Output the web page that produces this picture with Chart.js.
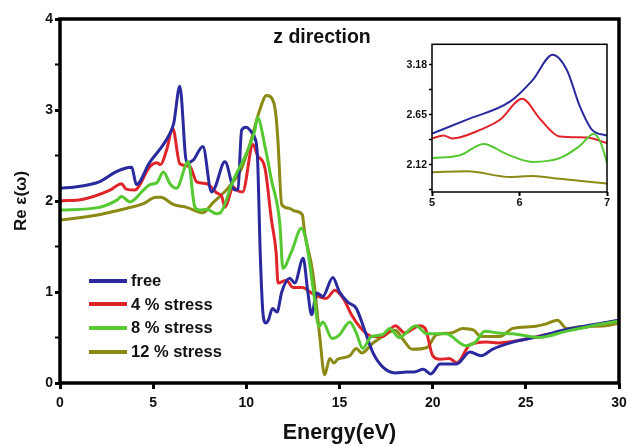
<!DOCTYPE html>
<html>
<head>
<meta charset="utf-8">
<script src="https://cdn.jsdelivr.net/npm/chart.js@4.4.1/dist/chart.umd.min.js"></script>
<style>
  html, body { margin: 0; padding: 0; background: #fff; }
  #wrap { position: relative; width: 630px; height: 446px; font-family: "Liberation Sans", Arial, sans-serif; }
  #main { position: absolute; left: 0; top: 0; }
  #inset { position: absolute; left: 395px; top: 36px; }
  #title { position: absolute; left: 222px; width: 200px; top: 25px; text-align: center; font-weight: bold; font-size: 19.5px; color: #111; }
  #legend { position: absolute; left: 89px; top: 269px; }
  .row { display: flex; align-items: center; height: 23.6px; font-weight: bold; font-size: 16.5px; color: #111; }
  .sw { width: 38px; height: 4px; margin-right: 4px; }
</style>
</head>
<body>
<div id="wrap">
  <canvas id="main" width="630" height="446"></canvas>
  <canvas id="inset" width="222" height="176"></canvas>
  <div id="title">z direction</div>
  <div id="legend"></div>
</div>
<script>
// ---------- data ----------
const seriesNames = ["free", "4 % stress", "8 % stress", "12 % stress"];
const seriesColors = ["#2a2a9e", "#e0252a", "#55c832", "#8a8a14"];

const freeE = [0, 1, 2.1, 3.0, 3.5, 3.85, 4.1, 4.8, 5.7, 6.1, 6.43, 6.8, 7.15, 7.67, 8.13, 8.3, 8.85, 9.38, 9.55, 9.75, 10.0, 10.3, 10.45, 10.6, 10.75, 10.9, 11.05, 11.2, 11.4, 11.65, 11.9, 12.33, 12.6, 13.05, 13.3, 13.5, 13.78, 14.1, 14.64, 15.0, 15.44, 15.9, 16.35, 16.8, 17.3, 18.0, 18.6, 19.0, 19.5, 19.9, 20.4, 21.3, 22.0, 22.6, 23.2, 24.5, 25.7, 27.2, 28.6, 30];
const freeV = [2.14, 2.16, 2.21, 2.32, 2.36, 2.37, 2.18, 2.42, 2.67, 2.85, 3.26, 2.42, 2.45, 2.60, 2.10, 2.14, 2.43, 2.12, 2.13, 2.78, 2.81, 2.75, 2.70, 2.48, 1.40, 0.75, 0.66, 0.70, 0.82, 0.78, 1.00, 1.15, 1.10, 1.37, 1.00, 0.75, 0.99, 0.95, 1.16, 1.00, 0.89, 0.82, 0.58, 0.33, 0.18, 0.11, 0.12, 0.12, 0.15, 0.10, 0.21, 0.21, 0.34, 0.30, 0.37, 0.46, 0.51, 0.59, 0.64, 0.69];

const s4E = [0, 1.25, 2.68, 3.3, 3.55, 4.0, 4.83, 5.2, 5.4, 5.72, 6.05, 6.43, 6.97, 7.33, 7.88, 8.4, 8.68, 8.85, 9.3, 9.55, 9.8, 10.36, 10.6, 11.0, 11.35, 11.6, 11.7, 12.15, 12.5, 13.0, 13.57, 14.3, 14.75, 15.2, 15.7, 16.25, 16.8, 17.3, 18.0, 18.5, 19.3, 19.6, 20.0, 20.4, 20.9, 21.3, 22.0, 22.9, 23.5, 24.7, 25.4, 27.0, 28.6, 30];
const s4V = [2.00, 2.02, 2.12, 2.19, 2.13, 2.12, 2.38, 2.42, 2.40, 2.56, 2.80, 2.41, 2.38, 2.21, 2.19, 2.09, 2.05, 1.93, 2.15, 2.11, 2.10, 2.62, 2.50, 2.36, 1.79, 1.43, 1.10, 1.13, 1.05, 1.05, 0.98, 0.93, 1.02, 0.93, 0.73, 0.58, 0.51, 0.51, 0.63, 0.55, 0.63, 0.60, 0.30, 0.26, 0.27, 0.22, 0.42, 0.45, 0.44, 0.47, 0.50, 0.57, 0.63, 0.69];

const s8E = [0, 2.1, 3.05, 3.3, 3.75, 4.48, 4.83, 5.2, 5.55, 5.9, 6.25, 6.88, 7.24, 7.5, 7.88, 8.4, 8.6, 9.3, 10.0, 10.46, 10.6, 11.0, 11.35, 11.8, 11.96, 12.42, 12.96, 13.2, 13.57, 13.9, 14.1, 14.6, 15.0, 15.55, 15.9, 16.25, 16.7, 17.3, 17.7, 18.2, 19.1, 19.7, 20.7, 21.8, 22.3, 22.8, 23.5, 24.3, 25.0, 25.7, 27.2, 28.6, 30];
const s8V = [1.90, 1.93, 2.01, 2.05, 1.99, 2.12, 2.18, 2.20, 2.32, 2.19, 2.14, 2.43, 1.93, 1.90, 1.91, 1.86, 1.87, 2.23, 2.52, 2.78, 2.92, 2.60, 2.23, 1.75, 1.26, 1.44, 1.70, 1.57, 1.06, 0.62, 0.67, 0.49, 0.53, 0.67, 0.55, 0.38, 0.51, 0.53, 0.60, 0.50, 0.63, 0.54, 0.54, 0.41, 0.45, 0.57, 0.55, 0.54, 0.52, 0.50, 0.57, 0.63, 0.68];

const s12E = [0, 2.1, 3.6, 4.48, 5.14, 5.4, 6.1, 6.8, 7.67, 8.2, 9.05, 9.7, 10.2, 10.72, 11.08, 11.44, 11.6, 11.7, 11.9, 12.3, 12.6, 13.0, 13.14, 13.57, 13.94, 14.2, 14.48, 14.7, 14.9, 15.55, 15.9, 16.2, 16.8, 17.3, 18.0, 18.4, 18.9, 19.7, 20.2, 21.0, 21.6, 22.2, 22.6, 23.6, 24.3, 25.4, 26.1, 26.7, 27.2, 28.0, 29.3, 30];
const s12V = [1.79, 1.85, 1.92, 1.97, 2.04, 2.04, 1.96, 1.93, 1.87, 1.98, 2.15, 2.34, 2.63, 3.00, 3.16, 3.10, 2.92, 2.65, 1.96, 1.92, 1.89, 1.85, 1.64, 1.21, 0.51, 0.09, 0.27, 0.22, 0.26, 0.30, 0.38, 0.33, 0.44, 0.51, 0.58, 0.48, 0.37, 0.39, 0.53, 0.55, 0.60, 0.58, 0.51, 0.51, 0.60, 0.62, 0.65, 0.69, 0.60, 0.62, 0.63, 0.66];

// inset (5–7 eV zoom)
const inFreeE = [5.0, 5.4, 5.89, 6.15, 6.38, 6.54, 6.69, 6.83, 7.0];
const inFreeV = [2.45, 2.60, 2.79, 3.02, 3.29, 3.13, 2.74, 2.49, 2.43];
const in4E = [5.0, 5.13, 5.23, 5.55, 5.78, 6.03, 6.24, 6.46, 6.77, 7.0];
const in4V = [2.40, 2.43, 2.40, 2.49, 2.60, 2.82, 2.60, 2.42, 2.41, 2.35];
const in8E = [5.0, 5.32, 5.59, 5.86, 6.15, 6.46, 6.69, 6.85, 6.93, 7.0];
const in8V = [2.19, 2.22, 2.34, 2.23, 2.15, 2.19, 2.32, 2.45, 2.35, 2.14];
const in12E = [5.0, 5.4, 5.89, 6.15, 6.46, 7.0];
const in12V = [2.04, 2.05, 1.99, 2.00, 1.97, 1.92];

const mainXTicks = [0, 5, 10, 15, 20, 25, 30];
const mainYLabels = [0, 1, 2, 3, 4];
const insetYTicks = [1.855, 2.12, 2.385, 2.65, 2.915, 3.18];
const insetYLabels = [2.12, 2.65, 3.18];
const insetXTicks = [5, 6, 7];

// ---------- helpers ----------
const pts = (e, v) => e.map((x, i) => ({ x: x, y: v[i] }));
const drawOrder = [1, 2, 0, 3];
const mkSets = (pairs, width) => pairs.map((p, i) => ({
  label: seriesNames[i],
  data: pts(p[0], p[1]),
  borderColor: seriesColors[i],
  borderWidth: width,
  pointRadius: 0,
  fill: false,
  cubicInterpolationMode: 'monotone',
  order: drawOrder[i]
}));

const frame = (lw) => ({
  id: 'frame' + lw,
  afterDatasetsDraw(chart) {
    const a = chart.chartArea, ctx = chart.ctx;
    ctx.save();
    ctx.strokeStyle = '#000';
    ctx.lineWidth = lw;
    ctx.strokeRect(a.left, a.top, a.right - a.left, a.bottom - a.top);
    ctx.restore();
  }
});

Chart.defaults.font.family = '"Liberation Sans", Arial, sans-serif';
Chart.defaults.color = '#111';

// ---------- main chart ----------
new Chart(document.getElementById('main'), {
  type: 'line',
  data: { datasets: mkSets([[freeE, freeV], [s4E, s4V], [s8E, s8V], [s12E, s12V]], 3) },
  options: {
    responsive: false, animation: false, devicePixelRatio: 1,
    layout: { padding: { top: 19, right: 11, left: 0, bottom: 0 } },
    plugins: { legend: { display: false }, tooltip: { enabled: false } },
    scales: {
      x: {
        type: 'linear', min: 0, max: 30,
        afterBuildTicks: s => { s.ticks = mainXTicks.map(v => ({ value: v })); },
        afterFit: s => { s.height = 63; s.paddingRight = 0; s.paddingLeft = 0; },
        ticks: { font: { size: 14, weight: 'bold' }, color: '#111', padding: 6, maxRotation: 0 },
        grid: { drawOnChartArea: false, drawTicks: true, tickLength: 6, tickWidth: 3, tickColor: '#000' },
        border: { display: false },
        title: { display: true, text: 'Energy(eV)', font: { size: 21.5, weight: 'bold' }, color: '#111', padding: { top: 0, bottom: 0 } }
      },
      y: {
        type: 'linear', min: 0, max: 4,
        ticks: {
          stepSize: 0.5, font: { size: 14, weight: 'bold' }, color: '#111', padding: 2,
          callback: v => (mainYLabels.includes(v) ? String(v) : '')
        },
        afterFit: s => { s.width = 60; },
        grid: {
          drawOnChartArea: false, drawTicks: true, tickLength: 5, tickColor: '#000',
          tickWidth: c => (Number.isInteger(c.tick.value) ? 3 : 2)
        },
        border: { display: false },
        title: { display: true, text: 'Re ε(ω)', font: { size: 17, weight: 'bold' }, color: '#111', padding: { top: 11, bottom: 0 } }
      }
    }
  },
  plugins: [frame(3.5)]
});

// ---------- inset chart ----------
new Chart(document.getElementById('inset'), {
  type: 'line',
  data: { datasets: mkSets([[inFreeE, inFreeV], [in4E, in4V], [in8E, in8V], [in12E, in12V]], 2) },
  options: {
    responsive: false, animation: false, devicePixelRatio: 1,
    layout: { padding: { top: 8, right: 10, left: 0, bottom: 0 } },
    plugins: { legend: { display: false }, tooltip: { enabled: false } },
    scales: {
      x: {
        type: 'linear', min: 5, max: 7,
        afterBuildTicks: s => { s.ticks = insetXTicks.map(v => ({ value: v })); },
        afterFit: s => { s.height = 20; s.paddingRight = 0; s.paddingLeft = 0; },
        ticks: { font: { size: 11, weight: 'bold' }, color: '#111', padding: 0, maxRotation: 0 },
        grid: { drawOnChartArea: false, drawTicks: true, tickLength: 4, tickWidth: 2, tickColor: '#000' },
        border: { display: false }
      },
      y: {
        type: 'linear', min: 1.83, max: 3.40,
        afterBuildTicks: s => { s.ticks = insetYTicks.map(v => ({ value: v })); },
        afterFit: s => { s.width = 37; },
        ticks: {
          font: { size: 10.5, weight: 'bold' }, color: '#111', padding: 2,
          callback: v => (insetYLabels.includes(v) ? v.toFixed(2) : '')
        },
        grid: { drawOnChartArea: false, drawTicks: true, tickLength: 3, tickWidth: 1.5, tickColor: '#000' },
        border: { display: false }
      }
    }
  },
  plugins: [frame(1.5)]
});

// ---------- legend ----------
const leg = document.getElementById('legend');
seriesNames.forEach((n, i) => {
  const r = document.createElement('div');
  r.className = 'row';
  const sw = document.createElement('span');
  sw.className = 'sw';
  sw.style.background = seriesColors[i];
  const t = document.createElement('span');
  t.textContent = n;
  r.appendChild(sw); r.appendChild(t);
  leg.appendChild(r);
});
</script>
</body>
</html>
